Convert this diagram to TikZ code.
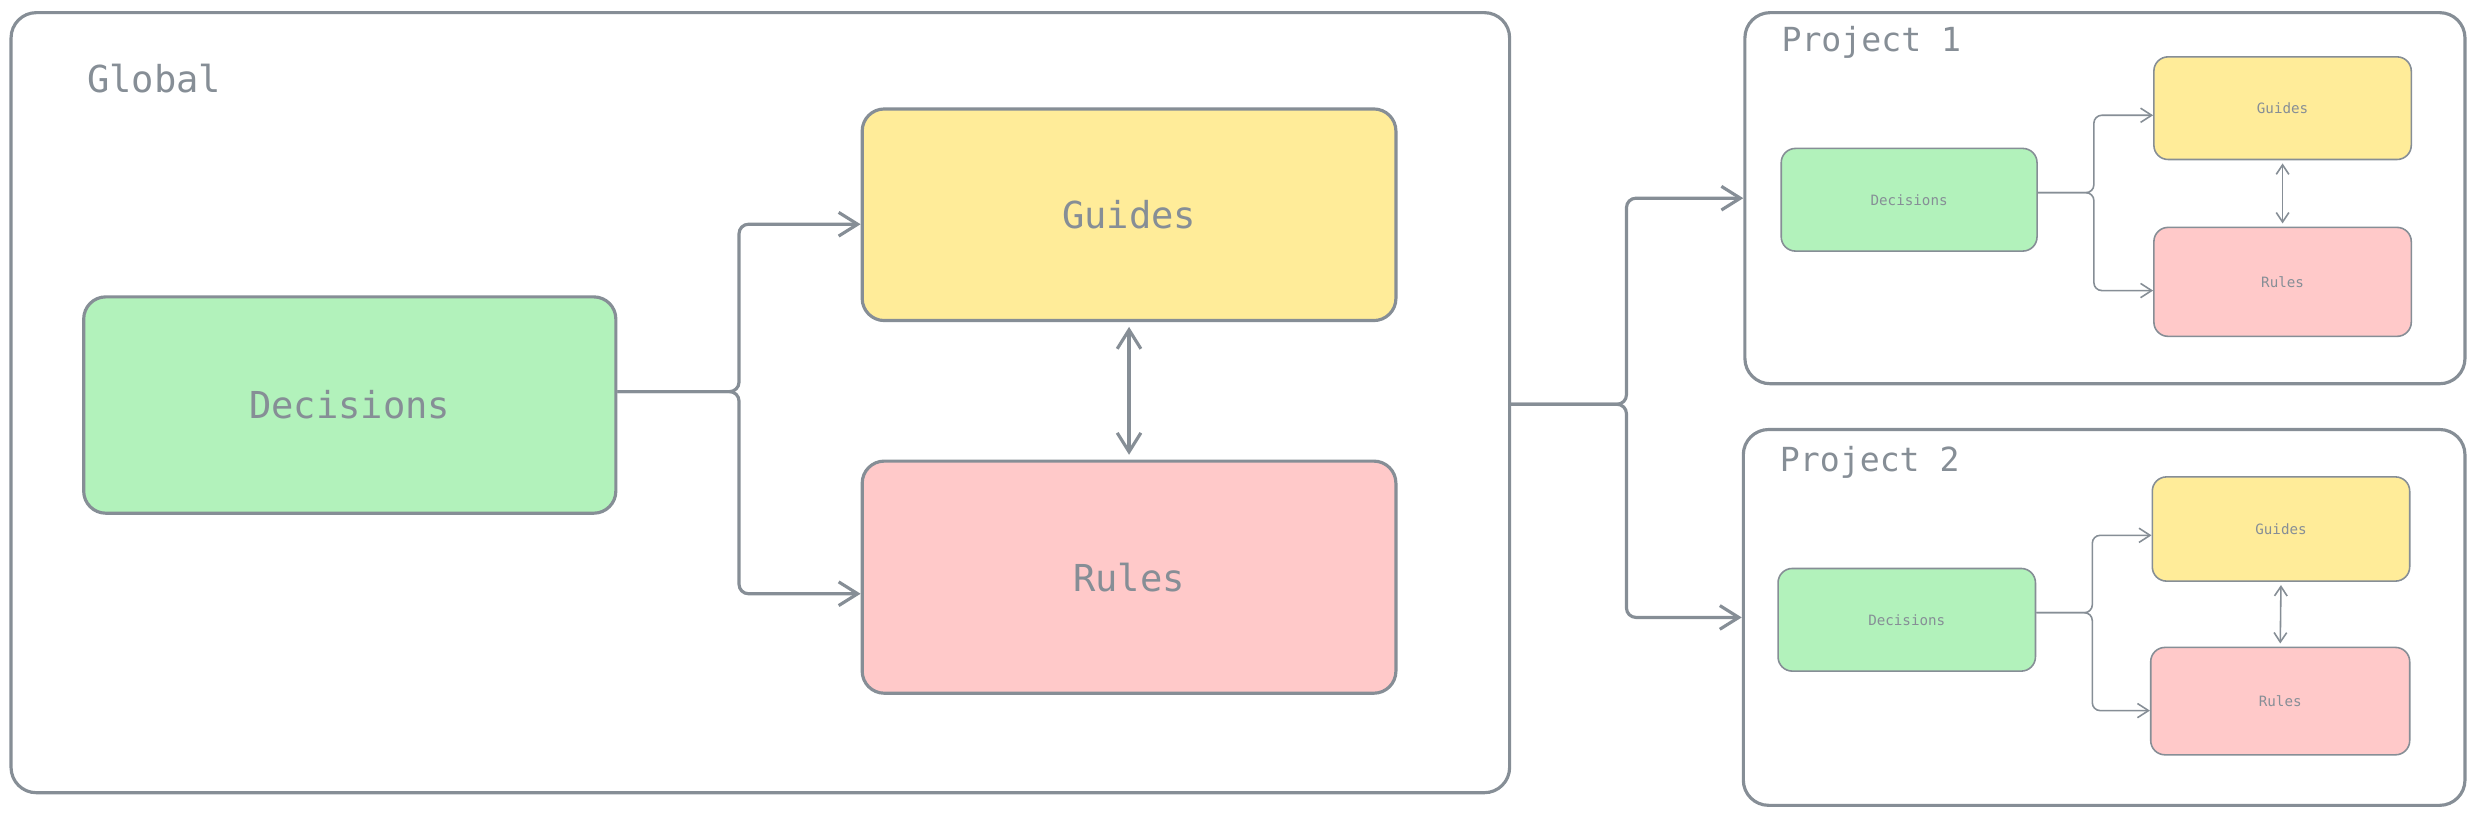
\documentclass[tikz,border=0pt]{standalone}
\usepackage{fontspec}
\newfontfamily\sketchfont{DejaVu Sans Mono}
\usepackage{xcolor}
\usetikzlibrary{arrows.meta,positioning}
\definecolor{inkgray}{HTML}{868E96}
\definecolor{decgreen}{HTML}{B2F2BB}
\definecolor{guideyellow}{HTML}{FFEC99}
\definecolor{rulered}{HTML}{FFC9C9}

\begin{document}
\begin{tikzpicture}[x=1pt,y=-1pt,
	frame/.style={draw=inkgray,line width=2pt,rounded corners=16pt,fill=white},
	bigbox/.style={draw=inkgray,line width=2pt,rounded corners=14pt,text=inkgray,font=\sketchfont\fontsize{23.5}{28}\selectfont},
	smallbox/.style={draw=inkgray,line width=1pt,rounded corners=9pt,text=inkgray,font=\sketchfont\fontsize{9}{11}\selectfont},
	title/.style={anchor=west,inner sep=0pt,text=inkgray,font=\sketchfont\fontsize{23.5}{28}\selectfont},
	subtitle/.style={anchor=west,inner sep=0pt,text=inkgray,font=\sketchfont\fontsize{21}{25}\selectfont},
	bigarrow/.style={draw=inkgray,line width=2pt,rounded corners=6pt,-{Straight Barb[length=12pt,width=15pt]}},
	bigboth/.style={draw=inkgray,line width=2pt,{Straight Barb[length=12pt,width=15pt]}-{Straight Barb[length=12pt,width=15pt]},shorten <=3pt,shorten >=3pt},
	smallarrow/.style={draw=inkgray,line width=1pt,rounded corners=5pt,-{Straight Barb[length=7pt,width=9pt]}},
	smallboth/.style={draw=inkgray,line width=1pt,{Straight Barb[length=6pt,width=8pt]}-{Straight Barb[length=6pt,width=8pt]},shorten <=2pt,shorten >=2pt}]
	\useasboundingbox (0,0) rectangle (1568,517);

	% global level
	\node[frame,minimum width=949pt,minimum height=494pt] (global) at (481.5,255) {};
	\node[title] (globaltitle) at (55,50) {Global};
	\node[bigbox,fill=decgreen,minimum width=337pt,minimum height=137pt] (gdec) at (221.5,256.5) {Decisions};
	\node[bigbox,fill=guideyellow,minimum width=338pt,minimum height=134pt] (gguide) at (715,136) {Guides};
	\node[bigbox,fill=rulered,minimum width=338pt,minimum height=147pt] (grule) at (715,365.5) {Rules};
	\coordinate (gfork) at (468,248);

	\draw[bigarrow] (gdec.east |- gfork) -- (gfork) |- ([yshift=-6pt]gguide.west);
	\draw[bigarrow] (gdec.east |- gfork) -- (gfork) |- ([yshift=-10.5pt]grule.west);
	\draw[bigboth] (gguide.south) -- (grule.north);

	% project 1
	\node[frame,minimum width=456pt,minimum height=235pt] (proj1) at (1333,125.5) {};
	\node[subtitle] (proj1title) at (1128,27) {Project 1};
	\node[smallbox,fill=decgreen,minimum width=162pt,minimum height=65pt] (p1dec) at (1209,126.5) {Decisions};
	\node[smallbox,fill=guideyellow,minimum width=163pt,minimum height=65pt] (p1guide) at (1445.5,68.5) {Guides};
	\node[smallbox,fill=rulered,minimum width=163pt,minimum height=69pt] (p1rule) at (1445.5,178.5) {Rules};
	\coordinate (p1fork) at (1326,122);

	\draw[smallarrow] (p1dec.east |- p1fork) -- (p1fork) |- ([yshift=-4.5pt]p1guide.west);
	\draw[smallarrow] (p1dec.east |- p1fork) -- (p1fork) |- ([yshift=-5.5pt]p1rule.west);
	\draw[smallboth] (p1guide.south) -- (p1rule.north);

	% project 2
	\node[frame,minimum width=457pt,minimum height=238pt] (proj2) at (1332.5,391) {};
	\node[subtitle] (proj2title) at (1127,293) {Project 2};
	\node[smallbox,fill=decgreen,minimum width=163pt,minimum height=65pt] (p2dec) at (1207.5,392.5) {Decisions};
	\node[smallbox,fill=guideyellow,minimum width=163pt,minimum height=66pt] (p2guide) at (1444.5,335) {Guides};
	\node[smallbox,fill=rulered,minimum width=164pt,minimum height=68pt] (p2rule) at (1444,444) {Rules};
	\coordinate (p2fork) at (1325,388);

	\draw[smallarrow] (p2dec.east |- p2fork) -- (p2fork) |- ([yshift=-4pt]p2guide.west);
	\draw[smallarrow] (p2dec.east |- p2fork) -- (p2fork) |- ([yshift=-6pt]p2rule.west);
	\draw[smallboth] (p2guide.south) -- (p2rule.north);

	% global to projects
	\coordinate (pfork) at (1030,256);
	\draw[bigarrow] (global.east |- pfork) -- (pfork) |- (proj1.west);
	\draw[bigarrow] (global.east |- pfork) -- (pfork) |- (proj2.west);
\end{tikzpicture}
\end{document}
